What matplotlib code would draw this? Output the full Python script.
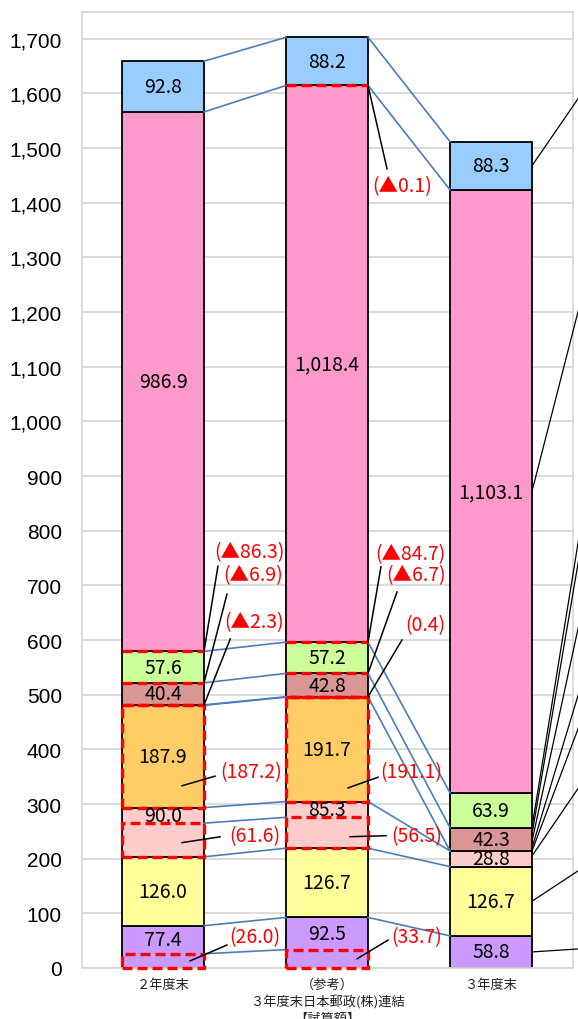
import matplotlib
matplotlib.use("Agg")
import matplotlib.pyplot as plt
from matplotlib.patches import Rectangle
from matplotlib.ticker import FuncFormatter

plt.rcParams['font.family'] = ['Noto Sans CJK JP', 'DejaVu Sans']

categories = ["２年度末", "（参考）\n３年度末日本郵政(株)連結\n【試算額】", "３年度末"]

# segments, bottom to top
purple = [77.4, 92.5, 58.8]
yellow = [126.0, 126.7, 126.7]
light_pink = [90.0, 85.3, 28.8]
orange = [187.9, 191.7, 0.0]
brown = [40.4, 42.8, 42.3]
green = [57.6, 57.2, 63.9]
pink = [986.9, 1018.4, 1103.1]
blue = [92.8, 88.2, 88.3]

# bracketed parts drawn as dashed boxes at the bottom of a segment
purple_part = [26.0, 33.7, 0]
light_pink_part = [61.6, 56.5, 0]
orange_part = [187.2, 191.1, 0]
orange_extra = [0, 0.4, 0]

# ▲ amounts, shown as dashed lines on a segment top
orange_minus = [2.3, 0, 0]
brown_minus = [6.9, 6.7, 0]
green_minus = [86.3, 84.7, 0]
pink_minus = [0, 0.1, 0]

names = ["purple", "yellow", "light_pink", "orange", "brown", "green", "pink", "blue"]
series = [purple, yellow, light_pink, orange, brown, green, pink, blue]
colors = ["#CC99FF", "#FFFF99", "#FFCCCC", "#FFCC66", "#DA9694", "#CCFF99", "#FF99CC", "#99CCFF"]

W = 0.5
RED = "#FF0000"
BLUE_LINE = "#4A7EBB"
DASH = (0, (3, 1.5))

fig = plt.figure(figsize=(5.78, 10.2), dpi=100)
ax = fig.add_axes([82 / 578, 51 / 1020, 491 / 578, 956 / 1020])
ax.set_xlim(-0.494, 2.5)
ax.set_ylim(0, 1749)

x = range(len(categories))
bottom = {}
top = {}
cum = [0.0, 0.0, 0.0]
for name, vals, col in zip(names, series, colors):
    bottom[name] = list(cum)
    ax.bar(x, vals, W, bottom=cum, color=col, edgecolor="black", linewidth=1.3, zorder=2)
    cum = [c + v for c, v in zip(cum, vals)]
    top[name] = list(cum)

# dashed boxes
parts = {"purple": purple_part, "light_pink": light_pink_part, "orange": orange_part}
for name, vals in parts.items():
    for i, v in enumerate(vals):
        if v > 0:
            ax.add_patch(Rectangle((i - W / 2, bottom[name][i]), W, v, fill=False,
                                   edgecolor=RED, linewidth=2.4, linestyle=DASH, zorder=4,
                                   clip_on=False))
for i, v in enumerate(orange_extra):
    if v > 0:
        y0 = bottom["orange"][i] + orange_part[i]
        ax.add_patch(Rectangle((i - W / 2, y0), W, v, fill=False, edgecolor=RED,
                               linewidth=2.4, linestyle=DASH, zorder=4))

# dashed lines for ▲ items
minus = {"orange": orange_minus, "brown": brown_minus, "green": green_minus, "pink": pink_minus}
for name, vals in minus.items():
    for i, v in enumerate(vals):
        if v > 0:
            ax.plot([i - W / 2, i + W / 2], [top[name][i]] * 2, color=RED, lw=2.4,
                    linestyle=DASH, zorder=4, solid_capstyle="butt")

# value labels inside segments (label sits in the part not covered by a dashed box)
for name, vals in zip(names, series):
    for i, v in enumerate(vals):
        if v <= 0:
            continue
        b = bottom[name][i]
        h = v
        if name in parts and parts[name][i] > 0 and name != "orange":
            b += parts[name][i]
            h -= parts[name][i]
        ax.text(i, b + h / 2, f"{v:,.1f}", ha="center", va="center", fontsize=14, zorder=5)

# connectors between bars
def level(name, i, part=None):
    if part is None:
        return top[name][i]
    return bottom[name][i] + part[i]

pairs_12 = [("purple", purple_part), ("purple", None), ("yellow", None),
            ("light_pink", light_pink_part), ("light_pink", None), ("orange", orange_part),
            ("orange", None), ("brown", None), ("green", None), ("pink", None), ("blue", None)]
for name, part in pairs_12:
    ax.plot([0 + W / 2, 1 - W / 2], [level(name, 0, part), level(name, 1, part)],
            color=BLUE_LINE, lw=1.2, zorder=3)

pairs_23 = ["purple", "yellow", "light_pink", "orange", "brown", "green", "pink", "blue"]
for name in pairs_23:
    ax.plot([1 + W / 2, 2 - W / 2], [top[name][1], top[name][2]], color=BLUE_LINE, lw=1.2, zorder=3)

# red bracket labels: (bar, anchor y, start x, text, line end, text pos)
def minus_label(v):
    return f"(▲{v:g})"

ann = [
    (0, top["green"][0], 0.25, minus_label(green_minus[0]), (0.335, 735), (0.53, 761)),
    (0, top["brown"][0], 0.25, minus_label(brown_minus[0]), (0.39, 684), (0.55, 719)),
    (0, top["orange"][0], 0.25, minus_label(orange_minus[0]), (0.41, 602), (0.555, 633)),
    (0, bottom["orange"][0] + 40, 0.116, f"({orange_part[0]})", (0.317, 351), (0.54, 359)),
    (0, bottom["light_pink"][0] + 26, 0.116, f"({light_pink_part[0]})", (0.348, 240), (0.56, 241.5)),
    (0, purple_part[0] / 2, 0.165, f"({purple_part[0]})", (0.39, 42), (0.56, 57)),
    (1, top["pink"][1], 1.25, minus_label(pink_minus[1]), (1.366, 1462), (1.457, 1431)),
    (1, top["green"][1], 1.25, minus_label(green_minus[1]), (1.329, 734), (1.51, 757.5)),
    (1, top["brown"][1], 1.25, minus_label(brown_minus[1]), (1.427, 688), (1.54, 719)),
    (1, top["orange"][1], 1.25, f"({orange_extra[1]})", (1.457, 600), (1.6, 629)),
    (1, bottom["orange"][1] + 25, 1.128, f"({orange_part[1]})", (1.311, 349), (1.515, 359)),
    (1, bottom["light_pink"][1] + 21, 1.14, f"({light_pink_part[1]})", (1.36, 242), (1.545, 241.5)),
    (1, purple_part[1] / 2, 1.183, f"({purple_part[1]})", (1.372, 51), (1.545, 57)),
]
for i, y, sx, label, end, pos in ann:
    ax.plot([sx, end[0]], [y, end[1]], color="black", lw=1.1, zorder=5)
    ax.text(pos[0], pos[1], label, color=RED, fontsize=14, ha="center", va="center", zorder=6)

# leader lines from the right-hand bar towards labels outside the view
right_starts = [top["pink"][2] + blue[2] / 2, bottom["pink"][2] + pink[2] / 2,
                258, 245, 232, 220, 214, 205,
                bottom["yellow"][2] + yellow[2] / 2, purple[2] / 2]
right_ends = [1590, 1200, 776, 739, 620, 498, 437, 328, 177.5, 34.8]
for s, e in zip(right_starts, right_ends):
    ex = 2.53
    dx, dy = ex - 2.25, e - s
    ax.plot([2.25, 2.25 + dx * 1.5], [s, s + dy * 1.5], color="black", lw=0.9, zorder=5, clip_on=False)

ax.set_yticks(range(0, 1800, 100))
ax.yaxis.set_major_formatter(FuncFormatter(lambda v, p: f"{v:,.0f}"))
for t in ax.get_yticklabels():
    t.set_fontfamily("Liberation Sans")
    t.set_fontsize(15)
ax.set_xticks(list(x))
ax.set_xticklabels(categories, fontsize=9.5, linespacing=1.35, color="#222222")
ax.tick_params(axis="both", length=0)
ax.tick_params(axis="y", pad=14.5)
ax.tick_params(axis="x", pad=7)

ax.yaxis.grid(True, color="#d9d9d9", lw=1.3)
ax.set_axisbelow(True)
for s in ax.spines.values():
    s.set_color("#d9d9d9")
    s.set_linewidth(1.3)

fig.savefig("out.png", dpi=100)
